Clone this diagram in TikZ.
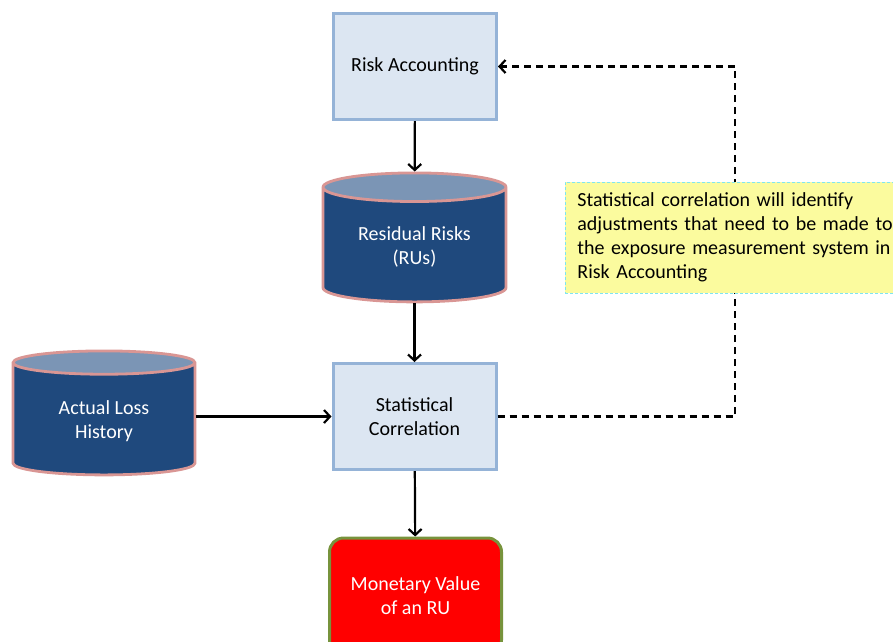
\documentclass[tikz,border=0pt]{standalone}
\usepackage{fontspec}
\setmainfont{Carlito}
\usepackage{tikz}
\usetikzlibrary{arrows.meta,shapes.geometric,calc}

\definecolor{boxfill}{HTML}{DCE6F2}
\definecolor{boxline}{HTML}{95B3D7}
\definecolor{dbbody}{HTML}{1F497D}
\definecolor{dbtop}{HTML}{7B95B5}
\definecolor{dbline}{HTML}{D99694}
\definecolor{notefill}{HTML}{FBFB9E}
\definecolor{noteline}{HTML}{7FE5F0}
\definecolor{moneyline}{HTML}{77933C}

\begin{document}
\begin{tikzpicture}[x=1pt,y=-1pt,
    every node/.style={font=\fontsize{20}{24}\selectfont, align=center},
    process/.style={rectangle, draw=boxline, fill=boxfill, line width=3pt,
      minimum width=163pt, minimum height=106pt},
    store/.style={cylinder, shape border rotate=90, aspect=0.24, anchor=north,
      draw=dbline, line width=2.8pt, text=white,
      cylinder uses custom fill, cylinder body fill=dbbody, cylinder end fill=dbtop},
    flow/.style={line width=2.2pt, -{Straight Barb[length=6pt,width=13pt,line width=2.2pt]}},
    feedback/.style={flow, dash pattern=on 7pt off 5pt}]
  \useasboundingbox (0,0) rectangle (893,641);

  \node[process] (risk) at (415,66.5) {Risk Accounting};
  \node[store, minimum width=183pt, minimum height=129pt] (resid) at (414.5,171.5) {Residual Risks\\(RUs)};
  \node[process] (stat) at (414.5,416.5) {Statistical\\Correlation};
  \node[store, minimum width=182pt, minimum height=124pt] (loss) at (104,349.5) {Actual Loss\\History};
  \node[rectangle, rounded corners=14pt, draw=moneyline, fill=red, text=white, line width=3pt,
    minimum width=172pt, minimum height=116pt] (money) at (415.5,596) {Monetary Value\\of an RU};

  \coordinate (turn) at (735,416.5);
  \draw[feedback] (stat.east) -- (turn) -- (turn |- risk.east) -- (risk.east);

  \node[rectangle, draw=noteline, densely dashed, line width=0.8pt, fill=notefill,
    text width=318pt, minimum height=111pt, inner xsep=12pt, align=left, anchor=north west] (note) at (565,181.5)
    {Statistical correlation will identify\\adjustments that need to be made to\\the exposure measurement system in\\Risk Accounting};

  \draw[flow] (risk) -- (resid);
  \draw[flow] (resid) -- (stat);
  \draw[flow] (stat.west -| loss.east) -- (stat.west);
  \draw[flow] (stat) -- (money);
\end{tikzpicture}
\end{document}
